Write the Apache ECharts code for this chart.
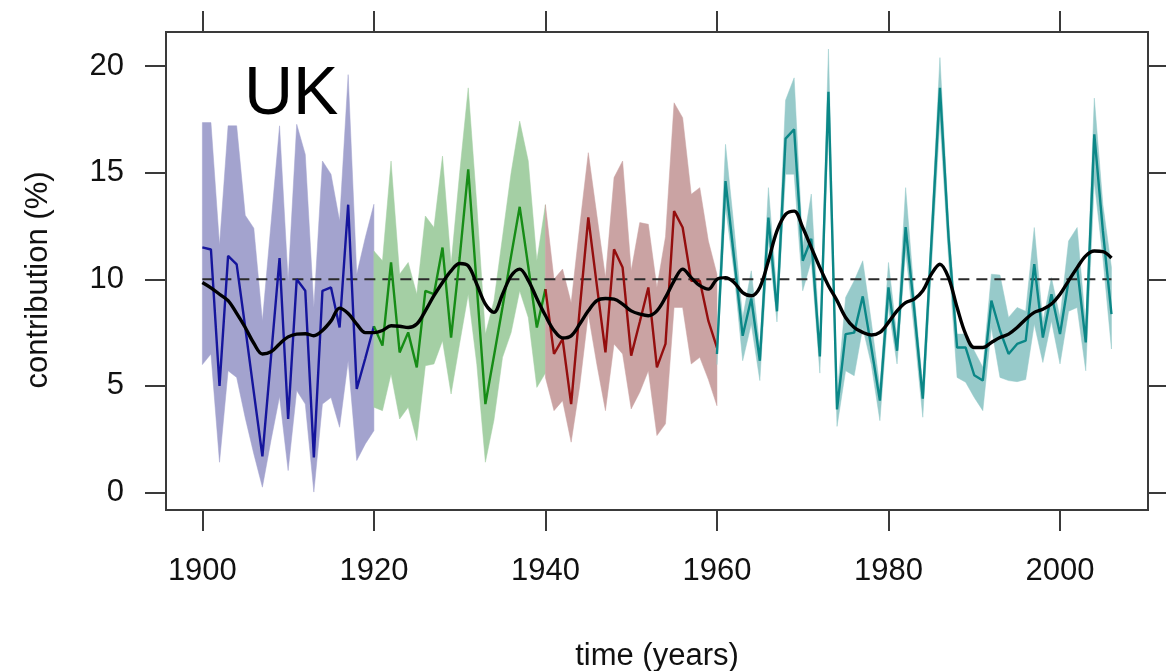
<!DOCTYPE html>
<html>
<head>
<meta charset="utf-8">
<script src="https://cdn.jsdelivr.net/npm/echarts@6/dist/echarts.min.js"></script>
<style>
html,body{margin:0;padding:0;background:#ffffff;}
#chart{width:1166px;height:671px;}
</style>
</head>
<body>
<div id="chart"></div>
<script>
// ---------- data ----------
const yearsBlue  = [1900,1901,1902,1903,1904,1905,1906,1907,1908,1909,1910,1911,1912,1913,1914,1915,1916,1917,1918,1919,1920];
const lineBlue   = [11.5,11.4,5.0,11.1,10.7,7.74,4.7,1.7,6.34,11.0,3.45,10.0,9.46,1.65,9.46,9.62,7.74,13.5,4.86,6.3,7.8];
const upperBlue  = [17.35,17.35,11.6,17.2,17.2,13.0,12.4,8.05,12.6,17.2,9.93,17.27,15.86,8.68,15.55,14.93,12.74,19.6,10.24,11.96,13.52];
const lowerBlue  = [6.0,6.5,1.42,5.71,5.4,3.5,1.81,0.25,2.44,4.5,1.03,4.78,4.15,0.02,4.15,4.46,3.06,6.18,1.5,2.28,2.9];

const yearsGreen = [1920,1921,1922,1923,1924,1925,1926,1927,1928,1929,1930,1931,1932,1933,1934,1935,1936,1937,1938,1939,1940];
const lineGreen  = [7.8,6.89,10.79,6.57,7.51,5.87,9.46,9.3,11.49,7.27,11.0,15.16,9.65,4.15,6.4,8.7,11.1,13.4,10.6,7.74,9.54];
const upperGreen = [11.33,10.87,15.55,10.24,10.79,9.3,12.97,12.43,15.78,10.71,15.0,18.98,13.5,7.43,9.0,12.0,15.0,17.42,15.55,10.87,13.5];
const lowerGreen = [4.0,3.84,5.56,3.45,4.0,2.44,5.95,6.03,7.12,4.62,7.0,9.3,6.0,1.42,3.4,6.34,7.5,9.46,8.21,4.93,5.6];

const yearsRed   = [1940,1941,1942,1943,1944,1945,1946,1947,1948,1949,1950,1951,1952,1953,1954,1955,1956,1957,1958,1959,1960];
const lineRed    = [9.54,6.5,7.2,4.15,8.6,12.9,9.7,6.57,11.41,10.55,6.42,8.0,9.62,5.87,6.97,13.2,12.43,9.93,9.93,8.05,6.8];
const upperRed   = [13.5,10.0,10.48,8.9,12.5,15.94,13.0,10.08,14.77,15.55,10.4,12.66,12.58,9.62,12.0,18.28,17.58,13.99,14.3,11.8,10.24];
const lowerRed   = [5.4,3.84,4.31,2.36,5.0,8.37,6.0,3.84,6.97,6.5,3.92,4.7,5.71,2.67,3.22,8.68,8.68,6.03,6.34,5.3,4.07];

const yearsTeal  = [1960,1961,1962,1963,1964,1965,1966,1967,1968,1969,1970,1971,1972,1973,1974,1975,1976,1977,1978,1979,1980,1981,1982,1983,1984,1985,1986,1987,1988,1989,1990,1991,1992,1993,1994,1995,1996,1997,1998,1999,2000,2001,2002,2003,2004,2005,2006];
const lineTeal   = [6.5,14.61,11.0,7.35,9.1,6.18,12.9,8.5,16.6,17.03,10.87,11.9,6.38,18.8,3.9,7.43,7.5,9.2,6.8,4.31,9.62,6.65,12.45,8.6,4.4,11.7,18.98,12.0,6.8,6.8,5.5,5.25,9.0,7.6,6.5,6.97,7.12,10.71,7.27,9.3,7.43,9.93,10.55,7.04,16.8,12.27,8.37];
const upperTeal  = [7.3,16.33,12.4,8.2,10.4,6.8,14.3,9.3,18.4,19.45,11.5,14.0,6.9,20.8,4.5,9.15,9.93,10.87,8.0,4.93,10.79,7.27,14.3,9.3,5.0,12.5,20.4,12.8,7.43,7.43,6.65,5.87,10.24,10.2,8.21,8.68,8.5,12.43,8.0,10.08,8.2,11.8,12.43,7.8,18.5,13.5,10.55];
const lowerTeal  = [6.0,13.4,10.3,6.18,7.9,5.25,11.8,8.0,14.93,14.93,9.46,10.87,5.6,17.2,3.1,5.71,5.48,7.74,6.0,3.37,8.68,6.03,11.33,7.6,3.53,10.5,17.5,11.0,5.4,5.17,4.46,3.84,7.74,5.4,5.25,5.2,5.3,7.9,6.1,8.05,6.03,8.5,8.68,5.71,14.6,11.0,6.73];

const yearsSmooth = [1900,1901,1902,1903,1904,1905,1906,1907,1908,1909,1910,1911,1912,1913,1914,1915,1916,1917,1918,1919,1920,1921,1922,1923,1924,1925,1926,1927,1928,1929,1930,1931,1932,1933,1934,1935,1936,1937,1938,1939,1940,1941,1942,1943,1944,1945,1946,1947,1948,1949,1950,1951,1952,1953,1954,1955,1956,1957,1958,1959,1960,1961,1962,1963,1964,1965,1966,1967,1968,1969,1970,1971,1972,1973,1974,1975,1976,1977,1978,1979,1980,1981,1982,1983,1984,1985,1986,1987,1988,1989,1990,1991,1992,1993,1994,1995,1996,1997,1998,1999,2000,2001,2002,2003,2004,2005,2006];
const smoothLine  = [9.85,9.6,9.3,9.0,8.4,7.74,7.0,6.5,6.6,6.97,7.3,7.43,7.45,7.35,7.6,8.05,8.65,8.4,7.9,7.5,7.5,7.6,7.82,7.8,7.74,7.9,8.52,9.23,9.85,10.4,10.74,10.63,9.77,8.84,8.45,9.3,10.16,10.48,9.95,9.1,8.3,7.6,7.25,7.35,7.9,8.52,9.0,9.1,9.07,8.84,8.52,8.37,8.29,8.52,9.15,9.93,10.48,10.08,9.7,9.54,10.0,10.08,9.85,9.38,9.23,9.62,10.87,12.27,13.05,13.2,12.43,11.49,10.55,9.7,9.0,8.21,7.74,7.51,7.39,7.51,7.98,8.52,8.91,9.07,9.46,10.24,10.71,10.08,8.68,7.43,6.8,6.8,7.04,7.27,7.43,7.74,8.13,8.45,8.6,8.84,9.3,9.93,10.55,11.1,11.33,11.3,11.0];

const refYears = [1900, 2006];
const refValue = [10, 10];

const xTicks = [1900, 1920, 1940, 1960, 1980, 2000];
const yTicks = [0, 5, 10, 15, 20];
const panelLabel = 'UK';

// ---------- chart ----------
const FONT = '"Liberation Sans", Arial, Helvetica, sans-serif';
const X_MIN = 1895.76, X_MAX = 2010.26;
const Y_MIN = -0.82, Y_MAX = 21.6;
const AX = '#3a3a3a';

function pairs(xs, ys){ return xs.map((x,i)=>[x, ys[i]]); }

function band(name, xs, lo, hi, color){
  return {
    name: name, type: 'custom', silent: true, z: 1, clip: true,
    data: xs.map((x,i)=>[x, lo[i], hi[i]]),
    encode: {x: 0, y: [1, 2]},
    renderItem: function(params, api){
      if (params.dataIndex !== 0) return null;
      const pts = [];
      for (let i = 0; i < xs.length; i++) pts.push(api.coord([xs[i], hi[i]]));
      for (let i = xs.length - 1; i >= 0; i--) pts.push(api.coord([xs[i], lo[i]]));
      return {type: 'polygon', shape: {points: pts}, style: {fill: color, stroke: color, lineWidth: 0.5}};
    }
  };
}

function seg(name, xs, ys, color){
  return {
    name: name, type: 'line', data: pairs(xs, ys), showSymbol: false, symbol: 'none',
    lineStyle: {color: color, width: 2.4}, z: 3, silent: true
  };
}

const chart = echarts.init(document.getElementById('chart'), null, {renderer: 'canvas'});

const tickStyle = {color: AX, width: 2};

const option = {
  backgroundColor: '#ffffff',
  animation: false,
  textStyle: {fontFamily: FONT},
  grid: {left: 166, right: 18, top: 32, bottom: 161, show: true, borderColor: AX, borderWidth: 2,
         backgroundColor: 'transparent', containLabel: false, outerBoundsMode: 'none'},
  xAxis: [{
    type: 'value', min: X_MIN, max: X_MAX, position: 'bottom',
    name: 'time (years)', nameLocation: 'middle', nameGap: 146,
    nameTextStyle: {fontSize: 31, color: '#111', fontFamily: FONT, verticalAlign: 'middle'},
    axisLine: {show: false, onZero: false},
    axisTick: {show: true, inside: false, length: 21, lineStyle: tickStyle, customValues: xTicks},
    axisLabel: {show: true, margin: 46, fontSize: 31, color: '#111', fontFamily: FONT, customValues: xTicks, formatter: v => String(v)},
    splitLine: {show: false}
  }, {
    type: 'value', min: X_MIN, max: X_MAX, position: 'top',
    axisLine: {show: false, onZero: false},
    axisTick: {show: true, inside: false, length: 21, lineStyle: tickStyle, customValues: xTicks},
    axisLabel: {show: false, customValues: xTicks},
    splitLine: {show: false}
  }],
  yAxis: [{
    type: 'value', min: Y_MIN, max: Y_MAX, position: 'left',
    name: 'contribution (%)', nameLocation: 'middle', nameGap: 128, nameRotate: 90,
    nameTextStyle: {fontSize: 31, color: '#111', fontFamily: FONT, verticalAlign: 'middle', padding: [0, 18, 0, 0]},
    axisLine: {show: false, onZero: false},
    axisTick: {show: true, inside: false, length: 21, lineStyle: tickStyle, customValues: yTicks},
    axisLabel: {show: true, margin: 42, fontSize: 31, color: '#111', fontFamily: FONT, customValues: yTicks, formatter: v => String(v)},
    splitLine: {show: false}
  }, {
    type: 'value', min: Y_MIN, max: Y_MAX, position: 'right',
    axisLine: {show: false, onZero: false},
    axisTick: {show: true, inside: false, length: 21, lineStyle: tickStyle, customValues: yTicks},
    axisLabel: {show: false, customValues: yTicks},
    splitLine: {show: false}
  }],
  graphic: [{
    type: 'text', left: 244, top: 61, z: 10,
    style: {text: panelLabel, fontSize: 68, fontFamily: FONT, fill: '#000'}
  }],
  series: [
    band('band 1900-1920', yearsBlue, lowerBlue, upperBlue, '#a3a3ce'),
    band('band 1920-1940', yearsGreen, lowerGreen, upperGreen, '#a4cfa4'),
    band('band 1940-1960', yearsRed, lowerRed, upperRed, '#caa3a3'),
    band('band 1960-2006', yearsTeal, lowerTeal, upperTeal, '#97caca'),
    {
      name: 'reference 10%', type: 'line', data: pairs(refYears, refValue), showSymbol: false, symbol: 'none', z: 2, silent: true,
      lineStyle: {color: '#2a2a2a', width: 2, type: [11, 7]}
    },
    seg('1900-1920', yearsBlue, lineBlue, '#15159c'),
    seg('1920-1940', yearsGreen, lineGreen, '#168c16'),
    seg('1940-1960', yearsRed, lineRed, '#940e0e'),
    seg('1960-2006', yearsTeal, lineTeal, '#0b8787'),
    {
      name: 'smoothed', type: 'line', data: pairs(yearsSmooth, smoothLine), showSymbol: false, symbol: 'none', smooth: 0.35, z: 5, silent: true,
      lineStyle: {color: '#000000', width: 3.4}
    }
  ]
};
chart.setOption(option);
</script>
</body>
</html>
